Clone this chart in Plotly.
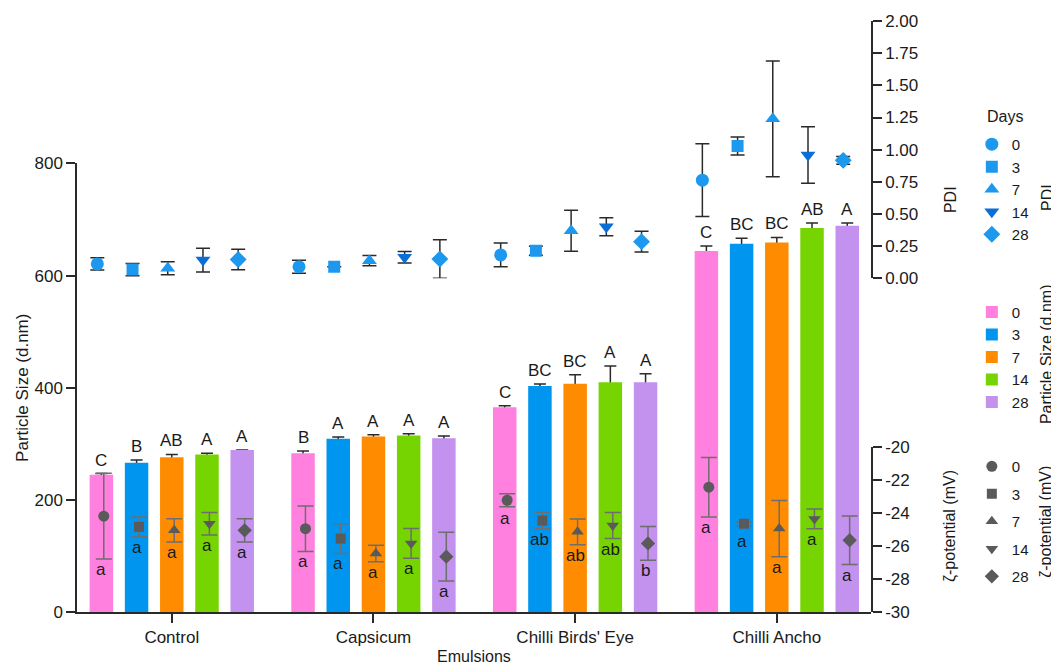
import plotly.graph_objects as go

# ---------------- data ----------------
categories = ["Control", "Capsicum", "Chilli Birds' Eye", "Chilli Ancho"]
days = ["0", "3", "7", "14", "28"]

# Particle size (d.nm): rows = day, cols = emulsion
size_mean = [
    [245, 283, 365, 644],
    [266, 309, 403, 657],
    [276, 313, 407, 659],
    [281, 315, 410, 685],
    [289, 310, 410, 689],
]
size_err = [
    [2, 4, 3, 9],
    [5, 3, 3.5, 9.5],
    [5, 3, 16, 9],
    [2, 3, 29, 9],
    [0, 4, 15, 5],
]
size_letters = [
    ["C", "B", "C", "C"],
    ["B", "A", "BC", "BC"],
    ["AB", "A", "BC", "BC"],
    ["A", "A", "A", "AB"],
    ["A", "A", "A", "A"],
]

# PDI
pdi_mean = [
    [0.112, 0.090, 0.182, 0.763],
    [0.068, 0.090, 0.215, 1.028],
    [0.078, 0.137, 0.370, 1.240],
    [0.142, 0.164, 0.400, 0.958],
    [0.146, 0.150, 0.285, 0.917],
]
pdi_err = [
    [0.048, 0.050, 0.093, 0.283],
    [0.048, 0.000, 0.035, 0.070],
    [0.050, 0.040, 0.160, 0.450],
    [0.092, 0.045, 0.070, 0.220],
    [0.080, 0.150, 0.080, 0.030],
]

# zeta-potential (mV)
zeta_mean = [
    [-24.20, -24.96, -23.24, -22.45],
    [-24.85, -25.56, -24.47, -24.66],
    [-25.06, -26.46, -25.15, -24.95],
    [-24.66, -25.85, -24.77, -24.37],
    [-25.06, -26.65, -25.85, -25.66],
]
zeta_err = [
    [2.60, 1.38, 0.40, 1.80],
    [0.60, 0.90, 0.50, 0.10],
    [0.70, 0.50, 0.78, 1.70],
    [0.68, 0.90, 0.79, 0.60],
    [0.70, 1.48, 1.02, 1.47],
]
zeta_letters = [
    ["a", "a", "a", "a"],
    ["a", "a", "ab", "a"],
    ["a", "a", "ab", "a"],
    ["a", "a", "ab", "a"],
    ["a", "a", "b", "a"],
]

# ---------------- styles ----------------
bar_colors = ["#FF80DF", "#0096F0", "#FF8C00", "#76D400", "#C391EE"]
sym = ["circle", "square", "triangle-up", "triangle-down", "diamond"]
pdi_colors = ["#1C98EE", "#1C98EE", "#1C98EE", "#0A6ED8", "#1C98EE"]
zeta_color = "#5A5A5A"
AX = "#2a2a2a"
TXT = "#1a1a1a"
FONT = "Liberation Sans, Arial, sans-serif"

BARGAP = 0.127
SLOT = (1 - BARGAP) / len(days)
xs = list(range(len(categories)))


def xpos(i, k, shift=0.0):
    return i + (k - (len(days) - 1) / 2) * SLOT + shift


fig = go.Figure()

# error bars for the particle-size bars (drawn underneath the real bars)
for k, d in enumerate(days):
    fig.add_trace(go.Bar(
        x=xs, y=size_mean[k], offsetgroup=str(k),
        marker=dict(color="rgba(0,0,0,0)", line=dict(width=0)),
        error_y=dict(type="data", symmetric=False, array=size_err[k],
                     arrayminus=size_mean[k], color=AX, thickness=1.5, width=6),
        showlegend=False, hoverinfo="skip"))

for k, d in enumerate(days):
    fig.add_trace(go.Bar(
        x=xs, y=size_mean[k], offsetgroup=str(k), name=d,
        marker=dict(color=bar_colors[k], line=dict(width=0)),
        legend="legend2", legendgroup="s" + d))

for k, d in enumerate(days):
    fig.add_trace(go.Scatter(
        x=[xpos(i, k, -0.02) for i in xs], y=pdi_mean[k], yaxis="y2",
        mode="markers", name=d, legend="legend", legendgroup="p" + d,
        marker=dict(symbol=sym[k], size=13 if k != 1 else 12, color=pdi_colors[k]),
        error_y=dict(type="data", array=pdi_err[k], color=AX, thickness=1.5, width=7)))

for k, d in enumerate(days):
    fig.add_trace(go.Scatter(
        x=[xpos(i, k, 0.012) for i in xs], y=zeta_mean[k], yaxis="y3",
        mode="markers", name=d, legend="legend3", legendgroup="z" + d,
        marker=dict(symbol=sym[k], size=11 if k != 1 else 10, color=zeta_color),
        error_y=dict(type="data", array=zeta_err[k], color="#6E6E6E", thickness=1.5, width=8)))

ann = []
for k in range(len(days)):
    for i in xs:
        ann.append(dict(x=xpos(i, k), y=size_mean[k][i] + size_err[k][i], xref="x", yref="y",
                        text=size_letters[k][i], showarrow=False, yanchor="bottom", yshift=2,
                        font=dict(size=17, color=TXT)))
        ann.append(dict(x=xpos(i, k), y=zeta_mean[k][i] - max(zeta_err[k][i], 0.45), xref="x", yref="y3",
                        text=zeta_letters[k][i], showarrow=False, yanchor="top", yshift=1,
                        font=dict(size=17, color=TXT)))

side_titles = [
    ("PDI", 1.0995, 0.697),
    ("PDI", 1.2215, 0.702),
    ("Particle Size (d.nm)", 1.2205, 0.4365),
    ("ζ-potential (mV)", 1.0995, 0.1455),
    ("ζ-potential (mV)", 1.2205, 0.1528),
]
for t, x, y in side_titles:
    ann.append(dict(text=t, x=x, y=y, xref="paper", yref="paper", textangle=-90,
                    showarrow=False, xanchor="center", yanchor="middle",
                    font=dict(size=16, color=TXT)))
ann.append(dict(text="Days", x=1.143, y=0.838, xref="paper", yref="paper", showarrow=False,
                xanchor="left", yanchor="middle", font=dict(size=16, color=TXT)))
ann.append(dict(text="Emulsions", x=0.5, y=-0.0745, xref="paper", yref="paper", showarrow=False,
                xanchor="center", yanchor="middle", font=dict(size=16, color=TXT)))

axis_common = dict(showline=True, linecolor=AX, linewidth=1.5, ticks="outside", ticklen=9,
                   tickwidth=1.5, tickcolor=AX, showgrid=False, zeroline=False, automargin=False,
                   tickfont=dict(size=17, color=TXT))

fig.update_layout(
    width=1051, height=657,
    margin=dict(l=69, r=188, t=13, b=53, autoexpand=False),
    paper_bgcolor="white", plot_bgcolor="rgba(0,0,0,0)",
    barmode="group", bargap=BARGAP, bargroupgap=0.333,
    font=dict(family=FONT, size=15, color=TXT),
    xaxis=dict(range=[-0.47, 3.467], tickvals=xs, ticktext=categories, anchor="y", **axis_common),
    yaxis=dict(domain=[0, 0.7589], range=[0, 800], tickvals=[0, 200, 400, 600, 800],
               title=dict(text="Particle Size (d.nm)", standoff=2, font=dict(size=17)), **axis_common),
    yaxis2=dict(domain=[0.5646, 1], range=[0, 2], anchor="x", side="right",
                tickvals=[0, 0.25, 0.5, 0.75, 1, 1.25, 1.5, 1.75, 2], tickformat=".2f", **axis_common),
    yaxis3=dict(domain=[0, 0.2797], range=[-30, -20], anchor="x", side="right",
                tickvals=[-30, -28, -26, -24, -22, -20],
                ticktext=["-30", "-28", "-26", "-24", "-22", "-20"], **axis_common),
    legend=dict(x=1.127, y=0.819, xanchor="left", yanchor="top", tracegroupgap=0,
                bgcolor="rgba(0,0,0,0)", font=dict(size=15)),
    legend2=dict(x=1.127, y=0.535, xanchor="left", yanchor="top", tracegroupgap=0,
                 bgcolor="rgba(0,0,0,0)", font=dict(size=15)),
    legend3=dict(x=1.127, y=0.274, xanchor="left", yanchor="top", tracegroupgap=5,
                 bgcolor="rgba(0,0,0,0)", font=dict(size=15)),
    annotations=ann,
    showlegend=True,
)

fig.write_html("out.html")
